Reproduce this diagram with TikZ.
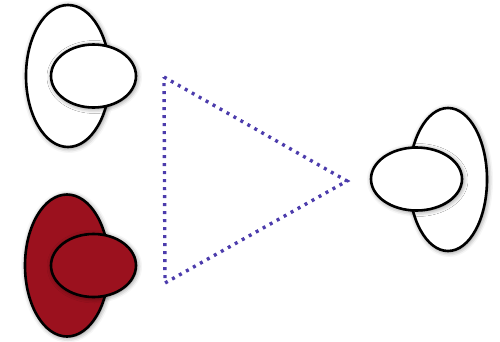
\documentclass[tikz,border=0pt]{standalone}
\usetikzlibrary{shapes.geometric,shadows.blur}
\definecolor{bloodred}{RGB}{155,17,30}
\definecolor{trianglecol}{RGB}{76,60,172}
\tikzset{
  blob/.style={ellipse, draw=black, line width=2.6pt, inner sep=0pt,
    blur shadow={shadow xshift=1pt, shadow yshift=-1pt, shadow blur radius=5pt, shadow opacity=55}},
  tri/.style={draw=trianglecol, line width=3.4pt, dash pattern=on 3pt off 5pt}
}
\begin{document}
\begin{tikzpicture}[x=1pt,y=-1pt]
\useasboundingbox (0,0) rectangle (500,341);
% top-left cell
\node[blob, fill=white, minimum width=84pt, minimum height=142pt] (tlbig) at (68,76) {};
\node[blob, fill=white, minimum width=85pt, minimum height=63pt] (tlsmall) at (93.5,76) {};
% bottom-left cell
\node[blob, fill=bloodred, minimum width=84pt, minimum height=142pt] (blbig) at (67,265.5) {};
\node[blob, fill=bloodred, minimum width=85pt, minimum height=63pt] (blsmall) at (93.5,265.5) {};
% right cell
\node[blob, fill=white, minimum width=78pt, minimum height=143pt] (rbig) at (448,179.5) {};
\node[blob, fill=white, minimum width=91pt, minimum height=63pt] (rsmall) at (416.5,179) {};
% triangle
\coordinate (ta) at (164,77);
\coordinate (tb) at (347,181);
\coordinate (tc) at (165,283);
\draw[tri] (ta) -- (tb) -- (tc) -- cycle;
\end{tikzpicture}
\end{document}
